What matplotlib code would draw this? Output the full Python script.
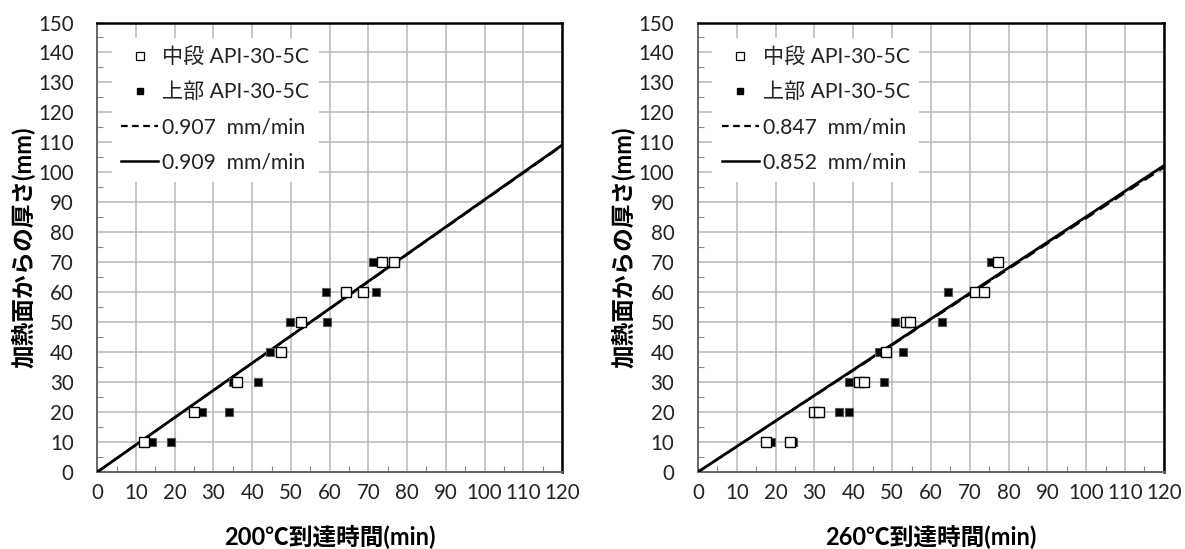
import numpy as np
import matplotlib
matplotlib.use("Agg")
import matplotlib.pyplot as plt
from matplotlib.lines import Line2D
from matplotlib.ticker import MultipleLocator

plt.rcParams['font.family'] = ['Lato', 'Noto Sans CJK JP', 'DejaVu Sans']

# 200℃ panel
mid_200_x = [12.1, 25.0, 36.0, 47.4, 52.5, 64.3, 68.6, 73.6, 76.5]
mid_200_y = [10, 20, 30, 40, 50, 60, 60, 70, 70]
top_200_x = [14.2, 19.0, 27.0, 33.9, 35.0, 41.6, 44.6, 47.8, 49.8, 59.4, 59.1, 72.0, 71.3]
top_200_y = [10, 10, 20, 20, 30, 30, 40, 40, 50, 50, 60, 60, 70]
rates_200 = [0.907, 0.909]

# 260℃ panel
mid_260_x = [17.6, 23.8, 30.0, 31.2, 41.5, 42.8, 48.3, 53.5, 54.5, 71.3, 73.7, 77.2]
mid_260_y = [10, 10, 20, 20, 30, 30, 40, 50, 50, 60, 60, 70]
top_260_x = [18.8, 24.4, 36.2, 38.8, 38.8, 48.0, 46.7, 52.8, 50.7, 62.8, 64.5, 75.5]
top_260_y = [10, 10, 20, 20, 30, 30, 40, 40, 50, 50, 60, 70]
rates_260 = [0.847, 0.852]

series_labels = ['中段 API-30-5C', '上部 API-30-5C']
y_label = '加熱面からの厚さ(mm)'
x_labels = ['200℃到達時間(min)', '260℃到達時間(min)']

fig = plt.figure(figsize=(11.85, 5.49), dpi=100)
ax1 = fig.add_axes([0.0821, 0.1403, 0.3922, 0.8187])
ax2 = fig.add_axes([0.5890, 0.1403, 0.3932, 0.8187])


def draw_panel(ax, mx, my, tx, ty, rates, xlabel):
    ax.set_xlim(0, 120)
    ax.set_ylim(0, 150)
    ax.xaxis.set_major_locator(MultipleLocator(10))
    ax.yaxis.set_major_locator(MultipleLocator(10))
    ax.xaxis.set_minor_locator(MultipleLocator(5))
    ax.yaxis.set_minor_locator(MultipleLocator(5))
    ax.grid(True, which='major', color='#b8b8b8', lw=1.1, zorder=0)
    ax.set_axisbelow(True)
    ax.tick_params(which='major', length=0, labelsize=14.8, colors='#222222')
    ax.tick_params(axis='x', which='major', pad=8)
    ax.tick_params(axis='y', which='major', pad=17)
    ax.tick_params(which='minor', direction='in', length=4, color='#888888', width=0.8)
    for side in ['left', 'bottom']:
        ax.spines[side].set_color('#666666')
        ax.spines[side].set_linewidth(1.4)
    for side in ['top', 'right']:
        ax.spines[side].set_color('black')
        ax.spines[side].set_linewidth(1.8)

    xs = np.array([0, 120])
    ax.plot(xs, rates[0] * xs, color='black', lw=1.6, ls=(0, (5, 3)), zorder=3)
    ax.plot(xs, rates[1] * xs, color='black', lw=2.0, zorder=4)
    ax.plot(tx, ty, 's', ms=5.2, mfc='black', mec='#555555', mew=0.8, ls='none', zorder=5)
    ax.plot(mx, my, 's', ms=7.6, mfc='white', mec='black', mew=1.0, ls='none', zorder=6)

    handles = [
        Line2D([], [], marker='s', ms=5.8, mfc='white', mec='black', mew=0.9, ls='none'),
        Line2D([], [], marker='s', ms=4.2, mfc='black', mec='black', ls='none'),
        Line2D([], [], color='black', lw=1.6, ls=(0, (3, 2))),
        Line2D([], [], color='black', lw=1.8),
    ]
    labels = series_labels + ['%.3f  mm/min' % r for r in rates]
    leg = ax.legend(handles, labels, loc='upper left', bbox_to_anchor=(0.008, 0.99),
                    fontsize=15.2, frameon=True, fancybox=False, framealpha=1,
                    edgecolor='none', facecolor='white', handlelength=1.75,
                    handletextpad=0.2, labelspacing=0.72, borderpad=0.45,
                    markerfirst=True)
    leg.set_zorder(10)
    for t in leg.get_texts():
        t.set_color('#222222')

    ax.set_xlabel(xlabel, fontsize=17, fontweight='bold', labelpad=16)
    ax.set_ylabel(y_label, fontsize=17, fontweight='bold', labelpad=2)


draw_panel(ax1, mid_200_x, mid_200_y, top_200_x, top_200_y, rates_200, x_labels[0])
draw_panel(ax2, mid_260_x, mid_260_y, top_260_x, top_260_y, rates_260, x_labels[1])

fig.savefig('out.png', dpi=100)
